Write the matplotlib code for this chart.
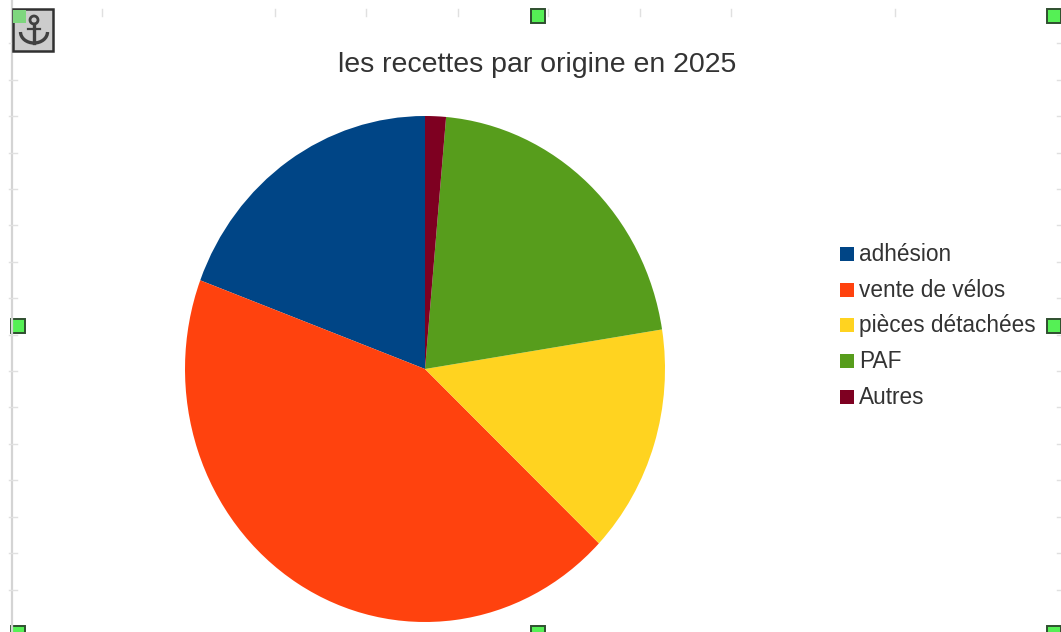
import matplotlib
matplotlib.use('Agg')
import matplotlib.pyplot as plt
from matplotlib.patches import Rectangle, Arc, Circle

plt.rcParams['font.family'] = ['Liberation Sans', 'DejaVu Sans']

W, H = 1061, 632

title = 'les recettes par origine en 2025'
labels = ['adhésion', 'vente de vélos', 'pièces détachées', 'PAF', 'Autres']
values = [19.3, 43.6, 14.6, 21.1, 1.4]
colors = ['#004586', '#ff420e', '#ffd320', '#579d1c', '#7e0021']

# ruler ticks and edit handles of the embedded object
top_ticks = [102, 275, 366, 458, 548, 640, 731, 895]
side_ticks = [43, 80, 116, 153, 189, 225, 262, 298, 335, 371, 407, 444, 480, 517, 553, 590]
handles = [(538, 16), (1054, 16), (18, 326), (1054, 326), (18, 633), (538, 633), (1054, 633)]

fig = plt.figure(figsize=(W / 100, H / 100), dpi=100)

# overlay in pixel coordinates for the editor decorations
bg = fig.add_axes([0, 0, 1, 1])
bg.set_xlim(0, W)
bg.set_ylim(H, 0)
bg.axis('off')

bg.plot([12, 12], [0, H], color='#d4d4d4', lw=1.6)
for y in side_ticks:
    bg.plot([9, 17], [y, y], color='#e0e0e0', lw=1)
    bg.plot([1057, 1061], [y, y], color='#e0e0e0', lw=1)
for x in top_ticks:
    bg.plot([x, x], [9, 16], color='#e0e0e0', lw=1)

for x, y in handles:
    bg.add_patch(Rectangle((x - 7, y - 7), 14, 14, fc='#55f055', ec='#2f4f2f', lw=1.4))

# anchor button
bg.add_patch(Rectangle((13, 9), 40, 42, fc='#cccccc', ec='#303030', lw=1.8, zorder=3))
bg.add_patch(Rectangle((13, 10), 13, 13, fc='#7ed67e', ec='none', zorder=4))
bg.add_patch(Circle((34, 20), 4, fc='none', ec='#404040', lw=2, zorder=5))
bg.plot([34, 34], [24, 43], color='#404040', lw=2.4, zorder=5)
bg.plot([28, 40], [29, 29], color='#404040', lw=1.6, zorder=5)
bg.add_patch(Arc((34, 32), 27, 22, theta1=0, theta2=180, ec='#404040', lw=2.4, zorder=5))

# pie is stretched a bit vertically in the original
ax = fig.add_axes([185 / W, 1 - 622 / H, 480 / W, 506 / H])
ax.pie(values, colors=colors, startangle=90, counterclock=True, radius=1)
ax.set_aspect('auto')
ax.set_xlim(-1, 1)
ax.set_ylim(-1, 1)

bg.text(537, 65, title, ha='center', va='center', fontsize=20.5, color='#333333')

# legend
for i, (lab, col) in enumerate(zip(labels, colors)):
    y = 254 + i * 35.7
    bg.add_patch(Rectangle((840, y - 7), 14, 14, fc=col, ec='none'))
    bg.text(859, y + 0.5, lab, ha='left', va='center', fontsize=16.3, color='#333333')

fig.savefig('out.png', dpi=100)
